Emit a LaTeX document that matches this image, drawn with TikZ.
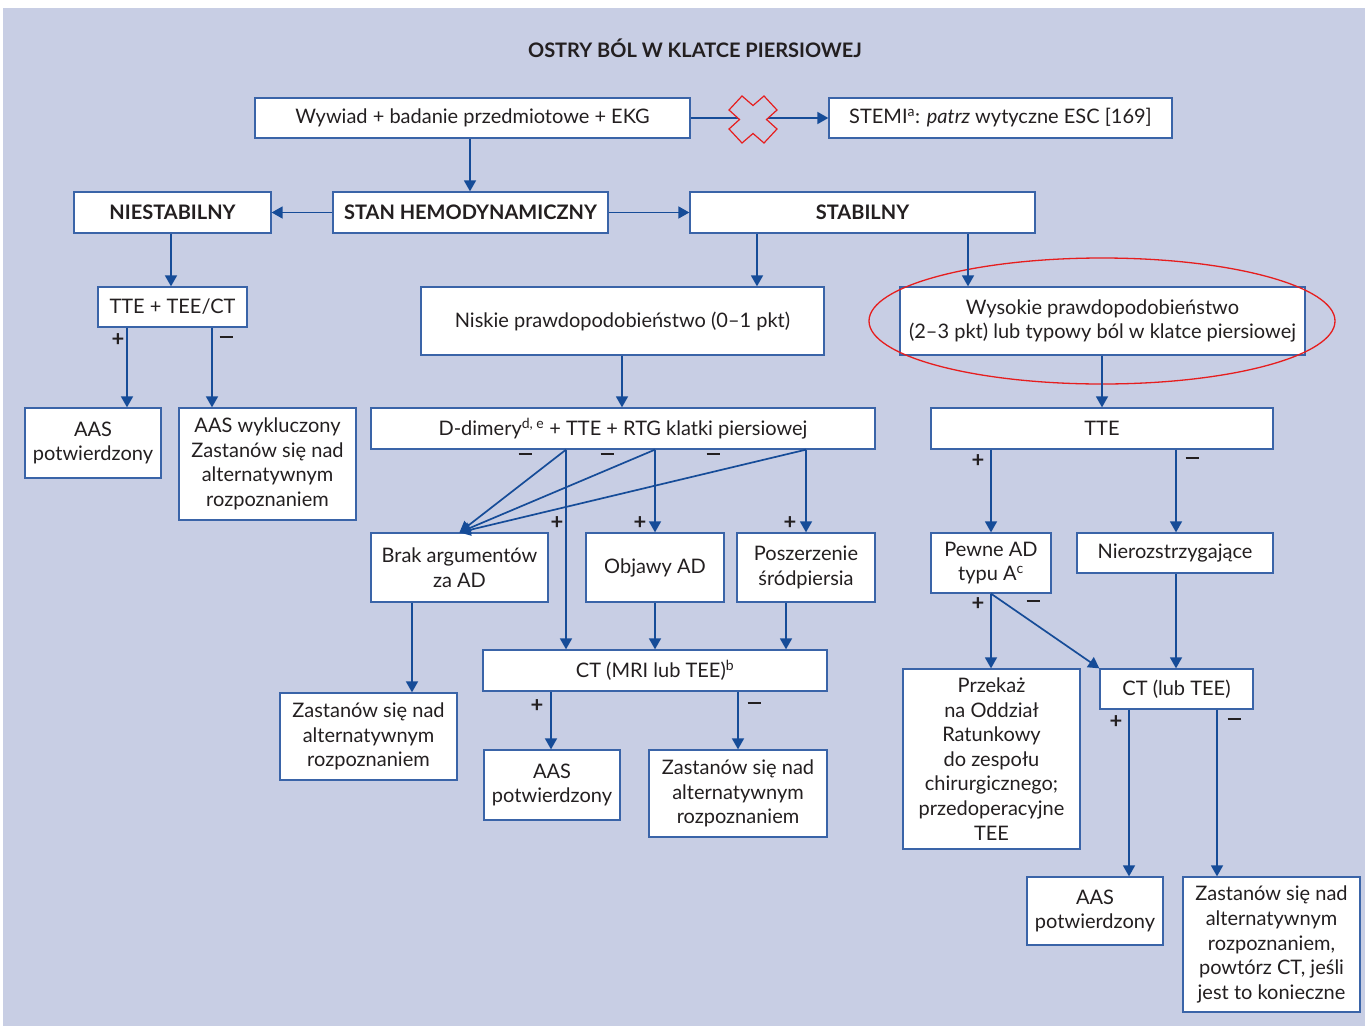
\documentclass[tikz,border=0pt]{standalone}
\usepackage{fontspec}
\setmainfont{Lato}
\usetikzlibrary{arrows.meta}
\definecolor{bgc}{RGB}{200,206,228}
\definecolor{boxc}{RGB}{58,100,168}
\definecolor{arrc}{RGB}{22,76,152}
\definecolor{txtc}{RGB}{35,31,32}
\definecolor{xred}{RGB}{230,30,30}
\begin{document}
\begin{tikzpicture}[x=1pt,y=-1pt,
  font=\fontsize{20}{24.6}\selectfont,
  box/.style={draw=boxc,fill=white,line width=1.3pt,text=txtc,align=center,inner sep=0pt},
  bbox/.style={box,font=\fontsize{20}{24.6}\selectfont\bfseries},
  arr/.style={draw=arrc,line width=1.7pt,-{Triangle[length=11pt,width=12pt]}},
  sgn/.style={text=txtc,font=\fontsize{22}{22}\selectfont\bfseries,inner sep=0pt}]
\useasboundingbox (0,0) rectangle (1365,1026);
\fill[bgc] (3,8) rectangle (1365,1026);
\node[text=txtc,font=\fontsize{20}{22}\selectfont\bfseries] (title) at (695,48) {OSTRY BÓL W KLATCE PIERSIOWEJ};
% boxes
\node[box,minimum width=435,minimum height=40] (A) at (472.5,118) {Wywiad + badanie przedmiotowe + EKG};
\node[box,minimum width=343,minimum height=40] (STEMI) at (1000.5,118) {STEMI\textsuperscript{a}: \textit{patrz} wytyczne ESC [169]};
\node[bbox,minimum width=275,minimum height=41] (STAN) at (470.5,212.5) {STAN HEMODYNAMICZNY};
\node[bbox,minimum width=197,minimum height=41] (NIEST) at (172.5,212.5) {NIESTABILNY};
\node[bbox,minimum width=345,minimum height=41] (STAB) at (862.5,212.5) {STABILNY};
\node[box,minimum width=149,minimum height=40] (TTEL) at (172.5,307) {TTE + TEE/CT};
\node[box,minimum width=403,minimum height=68] (NISK) at (622.5,321) {Niskie prawdopodobieństwo (0–1 pkt)};
\node[box,minimum width=405,minimum height=68] (WYS) at (1102.5,321) {Wysokie prawdopodobieństwo\\(2–3 pkt) lub typowy ból w klatce piersiowej};
\node[box,minimum width=136,minimum height=70] (AASL) at (93,443) {AAS\\potwierdzony};
\node[box,minimum width=177,minimum height=112] (AASW) at (267.5,464) {AAS wykluczony\\Zastanów się nad\\alternatywnym\\rozpoznaniem};
\node[box,minimum width=504,minimum height=41] (DD) at (623,428.5) {D-dimery\textsuperscript{d, e} + TTE + RTG klatki piersiowej};
\node[box,minimum width=342,minimum height=41] (TTER) at (1102,428.5) {TTE};
\node[box,minimum width=177,minimum height=69] (BRAK) at (459.5,567.5) {Brak argumentów\\za AD};
\node[box,minimum width=138,minimum height=69] (OBJ) at (655,567.5) {Objawy AD};
\node[box,minimum width=138,minimum height=69] (POSZ) at (806,567.5) {Poszerzenie\\śródpiersia};
\node[box,minimum width=120,minimum height=60] (PEWNE) at (991,563) {Pewne AD\\typu A\textsuperscript{c}};
\node[box,minimum width=196,minimum height=40] (NIER) at (1175,553) {Nierozstrzygające};
\node[box,minimum width=177,minimum height=87] (ZAST1) at (368.5,736.5) {Zastanów się nad\\alternatywnym\\rozpoznaniem};
\node[box,minimum width=344,minimum height=41] (CTM) at (655,670.5) {CT (MRI lub TEE)\textsuperscript{b}};
\node[box,minimum width=136,minimum height=70] (AASM) at (552,785) {AAS\\potwierdzony};
\node[box,minimum width=178,minimum height=87] (ZAST2) at (738,793.5) {Zastanów się nad\\alternatywnym\\rozpoznaniem};
\node[box,minimum width=177,minimum height=180] (PRZ) at (991.5,759) {Przekaż\\na Oddział\\Ratunkowy\\do zespołu\\chirurgicznego;\\przedoperacyjne\\TEE};
\node[box,minimum width=153,minimum height=40] (CTR) at (1176.5,689) {CT (lub TEE)};
\node[box,minimum width=136,minimum height=68] (AASR) at (1095,911) {AAS\\potwierdzony};
\node[box,minimum width=177,minimum height=135] (ZAST3) at (1271.5,944.5) {Zastanów się nad\\alternatywnym\\rozpoznaniem,\\powtórz CT, jeśli\\jest to konieczne};
% red ellipse
\draw[xred,line width=1.3pt] (1102,321) ellipse [x radius=233, y radius=63];
% connectors
\draw[arr] (A.east) -- (STEMI.west);
\filldraw[fill=bgc,draw=xred,line width=1.2pt]
  (742,96) -- (753,105.5) -- (764,96) -- (777,110) -- (766.5,119.5) -- (777,129)
  -- (764,143) -- (753,133.5) -- (742,143) -- (729,129) -- (739.5,119.5) -- (729,110) -- cycle;
\draw[arr] (470,0 |- A.south) -- (470,0 |- STAN.north);
\draw[arr] (STAN.west) -- (NIEST.east);
\draw[arr] (STAN.east) -- (STAB.west);
\draw[arr] (171,0 |- NIEST.south) -- (171,0 |- TTEL.north);
\draw[arr] (127,0 |- TTEL.south) -- (127,0 |- AASL.north);
\draw[arr] (212,0 |- TTEL.south) -- (212,0 |- AASW.north);
\draw[arr] (757,0 |- STAB.south) -- (757,0 |- NISK.north);
\draw[arr] (968,0 |- STAB.south) -- (968,0 |- WYS.north);
\draw[arr] (622,0 |- NISK.south) -- (622,0 |- DD.north);
\draw[arr] (1102,0 |- WYS.south) -- (1102,0 |- TTER.north);
\draw[arr] (566,0 |- DD.south) -- (BRAK.north);
\draw[arr] (655,0 |- DD.south) -- (BRAK.north);
\draw[arr] (806,0 |- DD.south) -- (BRAK.north);
\draw[arr] (566,0 |- DD.south) -- (566,0 |- CTM.north);
\draw[arr] (655,0 |- DD.south) -- (655,0 |- OBJ.north);
\draw[arr] (806,0 |- DD.south) -- (806,0 |- POSZ.north);
\draw[arr] (412,0 |- BRAK.south) -- (412,0 |- ZAST1.north);
\draw[arr] (655,0 |- OBJ.south) -- (655,0 |- CTM.north);
\draw[arr] (786,0 |- POSZ.south) -- (786,0 |- CTM.north);
\draw[arr] (551,0 |- CTM.south) -- (551,0 |- AASM.north);
\draw[arr] (738,0 |- CTM.south) -- (738,0 |- ZAST2.north);
\draw[arr] (991,0 |- TTER.south) -- (991,0 |- PEWNE.north);
\draw[arr] (1176,0 |- TTER.south) -- (1176,0 |- NIER.north);
\draw[arr] (991,0 |- PEWNE.south) -- (991,0 |- PRZ.north);
\draw[arr] (PEWNE.south) -- (CTR.north west);
\draw[arr] (1176,0 |- NIER.south) -- (1176,0 |- CTR.north);
\draw[arr] (1129,0 |- CTR.south) -- (1129,0 |- AASR.north);
\draw[arr] (1217,0 |- CTR.south) -- (1217,0 |- ZAST3.north);
% signs
\newcommand{\mns}{\rule[6pt]{13pt}{2.4pt}}
\node[sgn] (s1) at (118,340) {+};
\node[sgn] (s2) at (226,340) {\mns};
\node[sgn] (s3) at (525,457) {\mns};
\node[sgn] (s4) at (607,457) {\mns};
\node[sgn] (s5) at (713,457) {\mns};
\node[sgn] (s6) at (557,523) {+};
\node[sgn] (s7) at (640,523) {+};
\node[sgn] (s8) at (790,523) {+};
\node[sgn] (s9) at (978,461) {+};
\node[sgn] (s10) at (1192,461) {\mns};
\node[sgn] (s11) at (978,604) {+};
\node[sgn] (s12) at (1033,604) {\mns};
\node[sgn] (s13) at (537,706) {+};
\node[sgn] (s14) at (754,706) {\mns};
\node[sgn] (s15) at (1116,722) {+};
\node[sgn] (s16) at (1234,722) {\mns};
\end{tikzpicture}
\end{document}
